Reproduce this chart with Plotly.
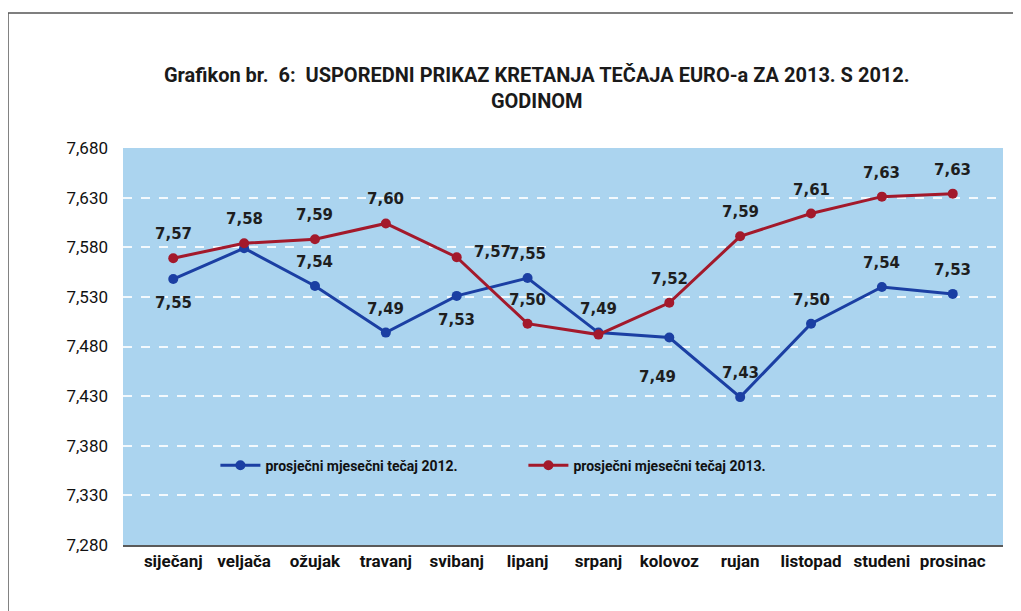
import plotly.graph_objects as go

# Months (x categories)
MONTHS = ["siječanj", "veljača", "ožujak", "travanj", "svibanj", "lipanj",
          "srpanj", "kolovoz", "rujan", "listopad", "studeni", "prosinac"]

# Average monthly EUR rate
RATE_2012 = [7.548, 7.579, 7.541, 7.494, 7.531, 7.549,
             7.494, 7.489, 7.429, 7.503, 7.540, 7.533]
RATE_2013 = [7.569, 7.584, 7.588, 7.604, 7.570, 7.503,
             7.492, 7.524, 7.591, 7.614, 7.631, 7.634]

# Where each data label sits relative to its point ("" = no label)
POS_2012 = ["below", "", "above", "above", "below", "above",
            "above", "below-left", "above", "above", "above", "above"]
POS_2013 = ["above", "above", "above", "above", "right", "above",
            "", "above", "above", "above", "above", "above"]

Y_TICKS = [7.28, 7.33, 7.38, 7.43, 7.48, 7.53, 7.58, 7.63, 7.68]

BLUE = "#1b3fa3"
RED = "#a3192b"
LABEL_FONT = dict(family="DejaVu Sans", size=15, color="#1e1e1e")
FONT = "Roboto, Noto Sans, sans-serif"

SHIFTS = {
    "above": dict(xshift=0, yshift=24),
    "below": dict(xshift=0, yshift=-24),
    "right": dict(xshift=36, yshift=5),
    "below-left": dict(xshift=-12, yshift=-39),
}

fig = go.Figure()
for name, vals, color in [
    ("prosječni mjesečni tečaj 2012.", RATE_2012, BLUE),
    ("prosječni mjesečni tečaj 2013.", RATE_2013, RED),
]:
    fig.add_trace(go.Scatter(
        x=MONTHS, y=vals, name=f"<b>{name}</b>", mode="lines+markers",
        line=dict(color=color, width=3),
        marker=dict(color=color, size=10),
    ))

# data labels, two decimals with a decimal comma
for vals, positions in [(RATE_2012, POS_2012), (RATE_2013, POS_2013)]:
    for m, v, p in zip(MONTHS, vals, positions):
        if not p:
            continue
        fig.add_annotation(
            x=m, y=v, text=f"<b>{v:.2f}</b>".replace(".", ","),
            showarrow=False, font=LABEL_FONT, **SHIFTS[p],
        )

# outer frame of the chart
fig.add_shape(type="rect", xref="paper", yref="paper",
              x0=-0.1307, x1=1.0136, y0=-0.2, y1=1.340,
              line=dict(color="#555555", width=1.5), layer="below")

fig.update_layout(
    width=1013, height=603,
    margin=dict(l=115, r=18, t=140, b=66),
    paper_bgcolor="white",
    plot_bgcolor="#abd4ef",
    separators=",.",
    title=dict(
        text="<b>Grafikon br.  6:  USPOREDNI PRIKAZ KRETANJA TEČAJA EURO-a ZA 2013. S 2012.<br>GODINOM</b>",
        x=0.522, xref="container", xanchor="center",
        y=0.878, yref="container", yanchor="bottom",
        font=dict(family=FONT, size=20, color="#1a1a1a"),
    ),
    xaxis=dict(
        showgrid=False, zeroline=False,
        showline=True, linecolor="#5a5a5a", linewidth=1.5,
        ticks="", tickfont=dict(family=FONT, size=17, color="#111111"),
        tickprefix="<b>", ticksuffix="</b>",
    ),
    yaxis=dict(
        range=[7.28, 7.68], tickvals=Y_TICKS, tickformat=".3f",
        showgrid=True, gridcolor="rgba(255,255,255,0.85)", griddash="dash",
        gridwidth=1.5, zeroline=False, showline=False, ticks="",
        ticklabelstandoff=14,
        tickfont=dict(family=FONT, size=17, color="#111111"),
    ),
    legend=dict(
        orientation="h", x=0.105, y=0.2, xanchor="left", yanchor="middle",
        bgcolor="rgba(0,0,0,0)", entrywidth=253,
        font=dict(family=FONT, size=14, color="#111111"),
        itemwidth=40,
    ),
)

fig.write_html("out.html")
